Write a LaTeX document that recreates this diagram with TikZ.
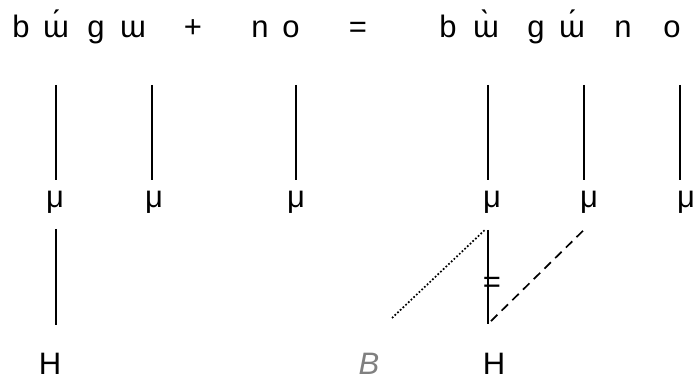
\documentclass[tikz,border=0pt]{standalone}
\usepackage{fontspec}
\setmainfont{Liberation Sans}
\begin{document}
\begin{tikzpicture}[x=1pt,y=-1pt,line width=1.7pt,font=\fontsize{31}{36}\selectfont,
  seg/.style={anchor=base,inner sep=0pt}]
\useasboundingbox (0,0) rectangle (694,382);
% segments
\node[seg] (s1) at (21,38) {b};
\node[seg] (s2) at (56,38) {ɯ́};
\node[seg] (s3) at (96,38) {g};
\node[seg] (s4) at (133,38) {ɯ};
\node[seg] (plus) at (193,38) {+};
\node[seg] (s5) at (260,38) {n};
\node[seg] (s6) at (291,38) {o};
\node[seg] (eqsign) at (358,38) {=};
\node[seg] (r1) at (448,38) {b};
\node[seg] (r2) at (486,38) {ɯ̀};
\node[seg] (r3) at (536,38) {g};
\node[seg] (r4) at (572,38) {ɯ́};
\node[seg] (r5) at (623,38) {n};
\node[seg] (r6) at (672,38) {o};
% moras
\node[seg] (m1) at (55,208) {μ};
\node[seg] (m2) at (154,208) {μ};
\node[seg] (m3) at (296,208) {μ};
\node[seg] (m4) at (492,208) {μ};
\node[seg] (m5) at (589,208) {μ};
\node[seg] (m6) at (686,208) {μ};
% tones
\node[seg] (h1) at (50,374) {H};
\node[seg] (h2) at (494,374) {H};
\node[seg,text=black!50,font=\fontsize{31}{36}\selectfont\itshape] (bnd) at (369,374) {B};
\node[inner sep=0pt] (mark) at (492,285) {=};
\coordinate (t1) at (56,85);
\coordinate (t2) at (152,85);
\coordinate (t3) at (296,85);
\coordinate (t4) at (488,85);
\coordinate (t5) at (584,85);
\coordinate (t6) at (680,85);
\coordinate (joint) at (488,324);
\coordinate (dotend) at (392,318);
\draw (t1) -- ([yshift=11pt]m1.north -| t1);
\draw (t2) -- ([yshift=11pt]m2.north -| t2);
\draw (t3) -- ([yshift=11pt]m3.north -| t3);
\draw (t4) -- ([yshift=11pt]m4.north -| t4);
\draw (t5) -- ([yshift=11pt]m5.north -| t5);
\draw (t6) -- ([yshift=11pt]m6.north -| t6);
\draw ([yshift=-14pt]m1.south -| t1) -- ([yshift=27pt]h1.north -| t1);
\draw ([yshift=-15pt]m4.south -| t4) -- (joint);
\draw[dotted] (dotend) -- ([xshift=-3pt,yshift=-15pt]m4.south -| t4);
\draw[dash pattern=on 9pt off 6pt] ([xshift=-6pt,yshift=-16pt]m5.south) -- (joint);
\end{tikzpicture}
\end{document}
